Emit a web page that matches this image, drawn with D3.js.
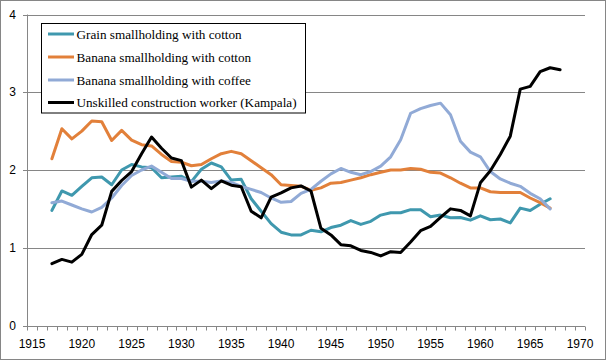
<!DOCTYPE html>
<html><head><meta charset="utf-8">
<script src="https://cdn.jsdelivr.net/npm/d3@7"></script>
<style>html,body{margin:0;padding:0;background:#fff}</style>
</head><body>
<svg id="c" width="607" height="361"></svg>
<script>
const allYears = d3.range(1915, 1971);
const years = d3.range(1917, 1968);
const yearsBlack = d3.range(1917, 1969);
const yTicks = [0, 1, 2, 3, 4];
const xTickLabels = [1915, 1920, 1925, 1930, 1935, 1940, 1945, 1950, 1955, 1960, 1965, 1970];
const seriesNames = ["Grain smallholding with cotton", "Banana smallholding with cotton", "Banana smallholding with coffee", "Unskilled construction worker (Kampala)"];
const grainCotton = [1.48,1.73,1.675,1.79,1.90,1.91,1.81,2.00,2.07,2.04,2.03,1.90,1.91,1.92,1.85,2.01,2.09,2.04,1.87,1.88,1.63,1.47,1.31,1.20,1.165,1.165,1.225,1.205,1.26,1.29,1.35,1.30,1.34,1.42,1.45,1.45,1.49,1.49,1.40,1.42,1.385,1.39,1.355,1.41,1.36,1.37,1.32,1.51,1.48,1.56,1.63];
const bananaCotton = [2.145,2.53,2.40,2.50,2.63,2.62,2.38,2.51,2.385,2.325,2.31,2.20,2.11,2.10,2.055,2.07,2.145,2.21,2.24,2.21,2.12,2.03,1.94,1.81,1.80,1.79,1.74,1.77,1.83,1.84,1.87,1.90,1.94,1.97,2.00,2.00,2.02,2.01,1.97,1.96,1.90,1.83,1.77,1.77,1.72,1.71,1.71,1.71,1.64,1.58,1.51];
const bananaCoffee = [1.58,1.60,1.55,1.50,1.46,1.52,1.64,1.80,1.93,2.00,2.05,1.97,1.89,1.89,1.855,1.855,1.84,1.86,1.84,1.79,1.75,1.71,1.64,1.585,1.595,1.70,1.75,1.855,1.95,2.02,1.97,1.94,1.98,2.05,2.17,2.39,2.73,2.79,2.83,2.86,2.71,2.37,2.23,2.17,1.98,1.885,1.83,1.79,1.70,1.63,1.50];
const unskilled = [0.795,0.85,0.815,0.915,1.17,1.29,1.725,1.865,1.98,2.21,2.425,2.28,2.155,2.12,1.78,1.87,1.76,1.86,1.805,1.785,1.47,1.385,1.65,1.705,1.77,1.795,1.73,1.25,1.165,1.04,1.025,0.965,0.94,0.895,0.95,0.94,1.075,1.22,1.275,1.39,1.50,1.48,1.41,1.835,1.99,2.20,2.435,3.04,3.075,3.265,3.315,3.29];
const colors = ["#3F98AE", "#E2803A", "#91AAD6", "#000000"];

const series = [
  {name: seriesNames[0], yrs: years, vals: grainCotton, color: colors[0]},
  {name: seriesNames[1], yrs: years, vals: bananaCotton, color: colors[1]},
  {name: seriesNames[2], yrs: years, vals: bananaCoffee, color: colors[2]},
  {name: seriesNames[3], yrs: yearsBlack, vals: unskilled, color: colors[3]}
];

const svg = d3.select("#c");
const gridColor = "#868686";
// chart border
svg.append("rect").attr("x", 0.5).attr("y", 0.5).attr("width", 605).attr("height", 359)
  .attr("fill", "#fff").attr("stroke", gridColor).attr("stroke-width", 1);

const x = d3.scaleBand().domain(allYears).range([27, 585]).paddingInner(0).paddingOuter(0);
const y = d3.scaleLinear().domain([0, 4]).range([325.5, 14.5]);
const cx = yr => x(yr) + x.bandwidth() / 2;

// gridlines + y ticks
svg.append("g").selectAll("line").data(yTicks).join("line")
  .attr("x1", 23).attr("x2", 585)
  .attr("y1", d => Math.round(y(d)) + 0.5).attr("y2", d => Math.round(y(d)) + 0.5)
  .attr("stroke", gridColor).attr("stroke-width", 1);
// y axis line
svg.append("line").attr("x1", 27.5).attr("x2", 27.5).attr("y1", y(4)).attr("y2", Math.round(y(0)) + 0.5)
  .attr("stroke", gridColor);
// y labels
svg.append("g").selectAll("text").data(yTicks).join("text")
  .attr("x", 16).attr("y", d => y(d)).attr("dy", "0.35em")
  .attr("text-anchor", "end").attr("font-family", "Liberation Sans, Arial, sans-serif")
  .attr("font-size", 12).attr("fill", "#000").text(d => d);

// x axis ticks at category boundaries
const bounds = allYears.map(d => x(d)).concat([x(1970) + x.bandwidth()]);
svg.append("g").selectAll("line").data(bounds).join("line")
  .attr("x1", d => Math.round(d) + 0.5).attr("x2", d => Math.round(d) + 0.5)
  .attr("y1", Math.round(y(0)) + 0.5).attr("y2", Math.round(y(0)) + 4.5)
  .attr("stroke", gridColor);
// x labels
svg.append("g").selectAll("text").data(xTickLabels).join("text")
  .attr("x", d => cx(d)).attr("y", 348)
  .attr("text-anchor", "middle").attr("font-family", "Liberation Sans, Arial, sans-serif")
  .attr("font-size", 12).attr("fill", "#000").text(d => d);

// lines
const line = d3.line().x(d => cx(d[0])).y(d => y(d[1]));
svg.append("g").selectAll("path").data(series).join("path")
  .attr("d", s => line(s.yrs.map((yr, i) => [yr, s.vals[i]])))
  .attr("fill", "none").attr("stroke", s => s.color).attr("stroke-width", 3)
  .attr("stroke-linejoin", "round").attr("stroke-linecap", "round");

// legend
const lg = svg.append("g");
lg.append("rect").attr("x", 41.5).attr("y", 23.5).attr("width", 264).attr("height", 89.5)
  .attr("fill", "#fff").attr("stroke", "#000").attr("stroke-width", 1);
const ly = [34, 57, 80, 102.5];
const items = lg.selectAll("g").data(series).join("g");
items.append("line").attr("x1", 48).attr("x2", 74)
  .attr("y1", (d, i) => ly[i]).attr("y2", (d, i) => ly[i])
  .attr("stroke", d => d.color).attr("stroke-width", 3);
items.append("text").attr("x", 76.5).attr("y", (d, i) => ly[i]).attr("dy", "0.35em")
  .attr("font-family", "Liberation Serif, Times New Roman, serif").attr("font-size", 13.2)
  .attr("fill", "#000").text(d => d.name);
</script>
</body></html>
